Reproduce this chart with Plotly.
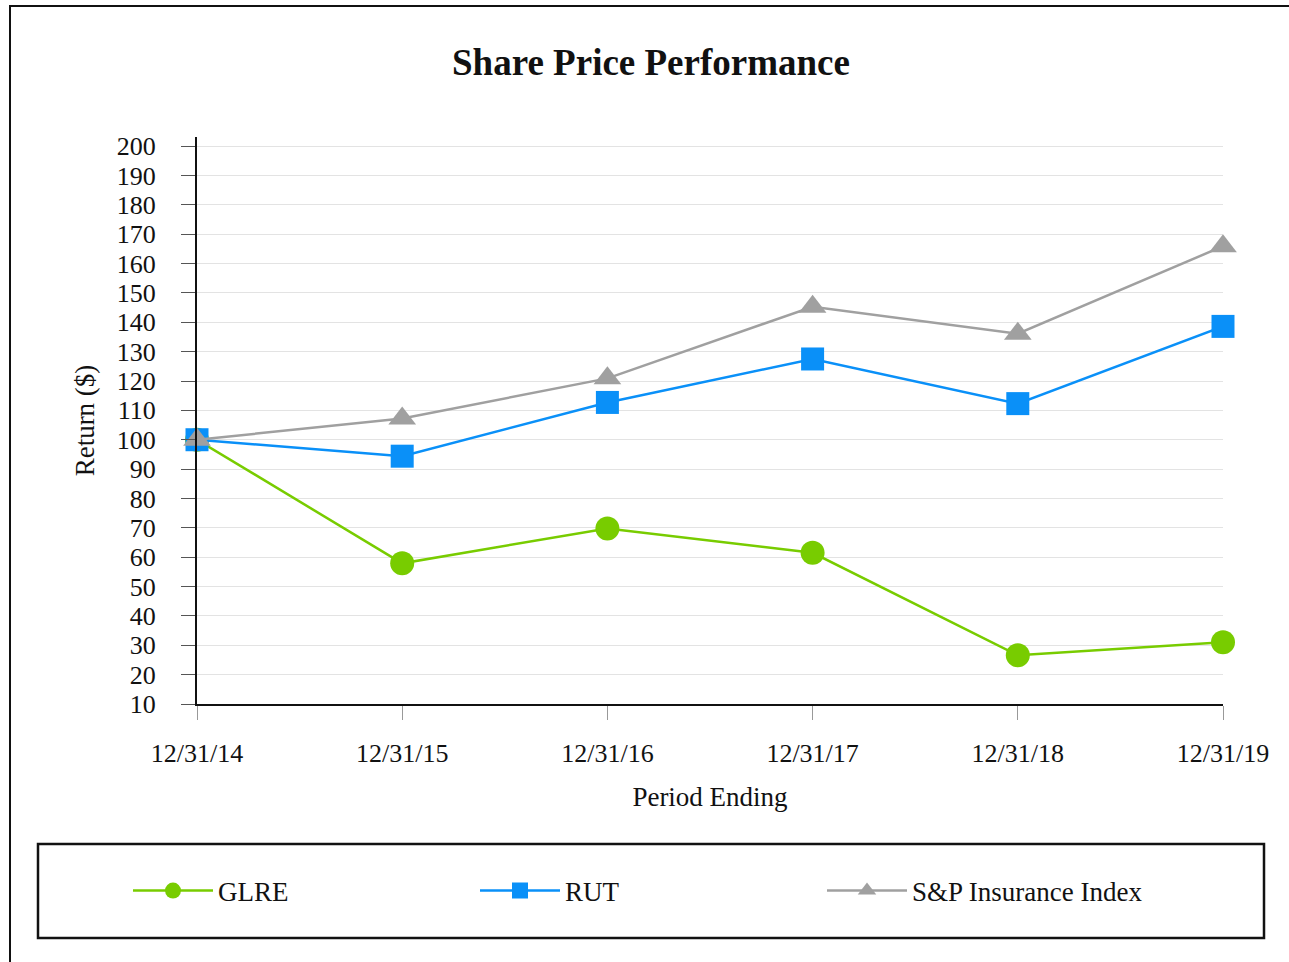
import plotly.graph_objects as go

periods = ["12/31/14", "12/31/15", "12/31/16", "12/31/17", "12/31/18", "12/31/19"]
glre = [100, 57.9, 69.8, 61.5, 26.6, 31.0]
rut = [100, 94.4, 112.7, 127.5, 112.3, 138.6]
sp_ins = [100, 107.2, 120.9, 145.3, 136.1, 165.9]

yticks = list(range(10, 201, 10))

FONT = "Liberation Serif"
W, H = 1289, 962
L, R, T, B = 197, 1223, 137, 704  # plot area pixel bounds


def px(x):
    return (x - L) / (R - L)


def py(y):
    return (B - y) / (B - T)


fig = go.Figure()
series = [
    ("GLRE", glre, "#78CC00", "circle", 24),
    ("RUT", rut, "#0A90F8", "square", 23),
    ("S&P Insurance Index", sp_ins, "#A0A0A0", "triangle-up", 24),
]
for name, vals, col, sym, sz in series:
    fig.add_trace(go.Scatter(
        x=periods, y=vals, name=name, mode="lines+markers",
        line=dict(color=col, width=2.5),
        marker=dict(symbol=sym, size=sz, color=col),
        cliponaxis=False,
    ))

fig.update_layout(
    width=W, height=H,
    margin=dict(l=L, r=W - R, t=T, b=H - B, pad=0),
    paper_bgcolor="white", plot_bgcolor="white",
    font=dict(family=FONT, size=26, color="#111"),
    title=dict(text="<b>Share Price Performance</b>", x=(651) / W, xanchor="center",
               y=1 - 62 / H, yanchor="middle", font=dict(family=FONT, size=37, color="#111")),
    showlegend=True,
    legend=dict(orientation="h", x=px(128), xanchor="left", y=py(891), yanchor="middle",
                entrywidth=252, entrywidthmode="pixels", itemwidth=80,
                font=dict(family=FONT, size=27, color="#111"),
                bgcolor="rgba(0,0,0,0)", borderwidth=0),
    xaxis=dict(
        type="category", range=[0, 5], showgrid=False,
        showline=True, linecolor="#111", linewidth=2,
        ticks="outside", ticklen=14, tickcolor="#999", tickwidth=1,
        ticklabelstandoff=11,
        tickfont=dict(family=FONT, size=26, color="#111"),
        title=dict(text="Period Ending", standoff=20, font=dict(family=FONT, size=27, color="#111")),
        zeroline=False,
    ),
    yaxis=dict(
        range=[10, 203.1], tickvals=yticks, ticktext=[str(v) for v in yticks],
        showgrid=True, gridcolor="#E3E3E3", gridwidth=1,
        showline=True, linecolor="#111", linewidth=2,
        ticks="outside", ticklen=14, tickcolor="#555", tickwidth=1,
        ticklabelstandoff=20,
        tickfont=dict(family=FONT, size=26, color="#111"),
        title=dict(text="Return ($)", standoff=14, font=dict(family=FONT, size=27, color="#111")),
        zeroline=False,
    ),
    shapes=[
        dict(type="rect", xref="paper", yref="paper",
             x0=px(10), x1=px(1300), y0=py(975), y1=py(6),
             line=dict(color="#111", width=2), fillcolor="rgba(0,0,0,0)", layer="below"),
        dict(type="rect", xref="paper", yref="paper",
             x0=px(38), x1=px(1264), y0=py(938), y1=py(844),
             line=dict(color="#111", width=2.5), fillcolor="rgba(0,0,0,0)", layer="below"),
    ],
)

fig.write_html("out.html", config={"displayModeBar": False},
               post_script="document.body.style.margin='0px';")
